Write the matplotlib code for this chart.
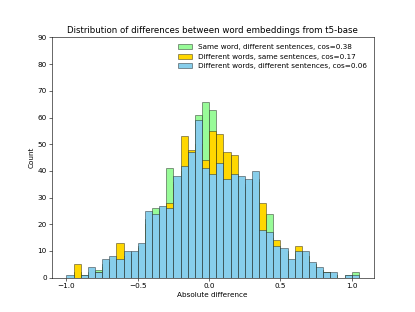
import numpy as np
import matplotlib
matplotlib.use("Agg")
import matplotlib.pyplot as plt

# bin left edges -1.0 ... 1.0, width 0.05
bin_start = -1.0
bin_width = 0.05

same_word = [0, 2, 1, 2, 3, 5, 6, 7, 8, 9, 12, 22, 26, 25, 41, 36, 40, 45, 61, 66, 63,
             42, 36, 38, 35, 34, 37, 18, 24, 11, 10, 6, 9, 8, 5, 3, 2, 1, 0, 1, 2]
same_sent = [0, 5, 0, 1, 2, 4, 6, 13, 8, 9, 11, 20, 22, 24, 28, 35, 53, 48, 50, 44, 55,
             54, 47, 46, 34, 33, 36, 28, 15, 14, 9, 6, 12, 8, 5, 3, 2, 1, 0, 0, 0]
diff_both = [1, 0, 1, 4, 2, 7, 8, 7, 10, 10, 13, 25, 24, 27, 26, 38, 42, 47, 59, 41, 39,
             43, 37, 39, 38, 37, 40, 18, 17, 12, 11, 7, 10, 10, 6, 4, 2, 2, 0, 1, 1]

labels = ["Same word, different sentences, cos=0.38",
          "Different words, same sentences, cos=0.17",
          "Different words, different sentences, cos=0.06"]
colors = ["palegreen", "gold", "skyblue"]

n = len(diff_both)
edges = bin_start + bin_width * np.arange(n + 1)
centers = edges[:-1] + bin_width / 2

dpi = 415 / 8
fig, ax = plt.subplots(figsize=(8, 312 / dpi), dpi=dpi)
for counts, lab, c in zip([same_word, same_sent, diff_both], labels, colors):
    ax.hist(centers, bins=edges, weights=counts, color=c, label=lab,
            edgecolor=(0, 0, 0, 0.45), linewidth=1.2)

ax.set_ylim(0, 90)
ax.set_title("Distribution of differences between word embeddings from t5-base")
ax.set_xlabel("Absolute difference")
ax.set_ylabel("Count")
ax.legend(loc="upper right", frameon=False)

fig.savefig("out.png", dpi=dpi)
